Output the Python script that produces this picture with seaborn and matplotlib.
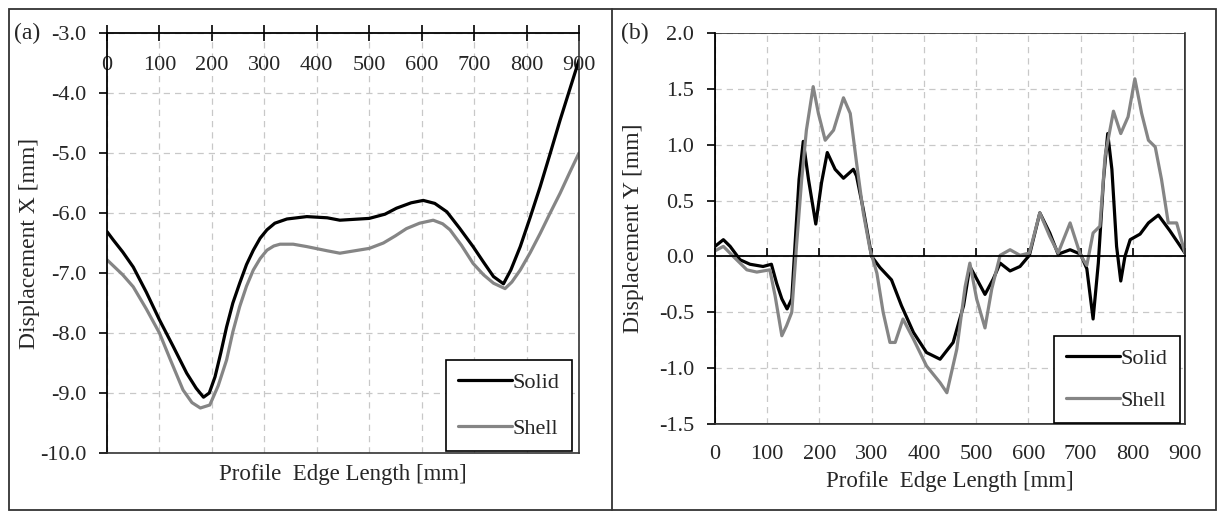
import matplotlib
matplotlib.use("Agg")
import matplotlib.pyplot as plt
import seaborn as sns
import numpy as np
from matplotlib.patches import Rectangle
from matplotlib.lines import Line2D

# ---------------- data ----------------
# Panel (a): Displacement X
ax_solid_x = [0, 12, 30, 50, 75, 100, 126, 152, 170, 184, 195, 206, 217, 228, 240, 253, 266, 279, 292, 305, 320, 343, 381, 420, 444,
              500, 530, 552, 580, 603, 625, 648, 672, 698, 718, 737, 756, 770, 788, 807, 826, 845, 864, 882, 900]
ax_solid_y = [-6.31, -6.45, -6.65, -6.9, -7.32, -7.78, -8.22, -8.67, -8.92, -9.07, -9.0, -8.73, -8.33, -7.9, -7.5, -7.17, -6.86, -6.62, -6.42, -6.28, -6.17, -6.1, -6.06, -6.08, -6.12,
              -6.09, -6.02, -5.92, -5.83, -5.79, -5.84, -5.98, -6.25, -6.56, -6.82, -7.06, -7.18, -6.95, -6.56, -6.07, -5.56, -5.01, -4.45, -3.95, -3.45]
ax_shell_x = [0, 12, 30, 50, 75, 100, 122, 145, 162, 178, 196, 212, 228, 240, 253, 266, 279, 292, 305, 318, 330, 355, 381, 420, 444,
              500, 527, 550, 571, 596, 622, 640, 654, 676, 698, 718, 737, 759, 772, 788, 807, 826, 845, 864, 882, 900]
ax_shell_y = [-6.78, -6.88, -7.03, -7.23, -7.6, -8.0, -8.47, -8.95, -9.16, -9.25, -9.2, -8.88, -8.45, -7.98, -7.56, -7.22, -6.95, -6.76, -6.62, -6.55, -6.52, -6.52, -6.56, -6.63, -6.67,
              -6.59, -6.5, -6.38, -6.26, -6.17, -6.12, -6.18, -6.28, -6.54, -6.84, -7.03, -7.17, -7.26, -7.15, -6.95, -6.66, -6.34, -6.0, -5.67, -5.33, -5.0]

# Panel (b): Displacement Y
by_solid_x = [0, 16, 29, 48, 67, 92, 108, 118, 128, 138, 147, 155, 161, 169, 179, 193, 204, 215, 230, 246,
              265, 271, 284, 300, 316, 338, 357, 380, 405, 431, 456, 476, 488, 501, 517, 533, 546, 565, 584, 602,
              622, 641, 657, 680, 700, 712, 724, 734, 744, 752, 760, 769, 777, 785, 795, 814, 830, 849, 871, 900]
by_solid_y = [0.09, 0.15, 0.09, -0.03, -0.07, -0.09, -0.07, -0.24, -0.38, -0.47, -0.38, 0.24, 0.69, 1.03, 0.69, 0.29, 0.66, 0.93, 0.78, 0.70,
              0.78, 0.72, 0.42, 0.0, -0.10, -0.21, -0.44, -0.68, -0.86, -0.92, -0.77, -0.44, -0.09, -0.20, -0.34, -0.20, -0.06, -0.13, -0.09, 0.01,
              0.39, 0.21, 0.02, 0.06, 0.02, -0.11, -0.56, -0.06, 0.69, 1.10, 0.78, 0.09, -0.22, 0.0, 0.15, 0.2, 0.30, 0.37, 0.23, 0.03]
by_shell_x = [0, 16, 35, 61, 80, 105, 115, 128, 137, 147, 156, 166, 175, 188, 198, 211, 227, 246, 259, 271,
              284, 297, 310, 322, 335, 345, 360, 380, 405, 431, 444, 463, 479, 488, 501, 517, 530, 546, 565, 584,
              602, 622, 641, 657, 680, 700, 712, 724, 737, 747, 763, 777, 791, 804, 817, 830, 843, 855, 868, 884, 900]
by_shell_y = [0.05, 0.09, 0.0, -0.12, -0.14, -0.12, -0.35, -0.71, -0.62, -0.50, 0.09, 0.69, 1.13, 1.52, 1.28, 1.04, 1.13, 1.42, 1.28, 0.84,
              0.39, 0.06, -0.15, -0.5, -0.77, -0.77, -0.56, -0.74, -0.98, -1.13, -1.22, -0.83, -0.27, -0.06, -0.38, -0.64, -0.29, 0.01, 0.06, 0.01,
              0.03, 0.39, 0.18, 0.03, 0.30, 0.01, -0.08, 0.21, 0.27, 0.90, 1.30, 1.10, 1.25, 1.59, 1.28, 1.04, 0.98, 0.69, 0.30, 0.30, 0.03]

x_ticks = [0, 100, 200, 300, 400, 500, 600, 700, 800, 900]
ya_ticks = [-10.0, -9.0, -8.0, -7.0, -6.0, -5.0, -4.0, -3.0]
yb_ticks = [-1.5, -1.0, -0.5, 0.0, 0.5, 1.0, 1.5, 2.0]
series_names = ["Solid", "Shell"]
series_colors = ["#000000", "#858585"]

# ---------------- style ----------------
sns.set_theme(style="white")
plt.rcParams['font.family'] = ['Liberation Serif', 'DejaVu Serif']

W, H = 1218, 511
fig = plt.figure(figsize=(W / 100, H / 100), dpi=100)

def fr(x0, y0, x1, y1):
    return [x0 / W, 1 - y1 / H, (x1 - x0) / W, (y1 - y0) / H]

axA = fig.add_axes(fr(107, 33, 579, 453))
axB = fig.add_axes(fr(715, 33, 1185, 424))

TICK_FS = 16
XLAB_FS = 16.5
YLAB_FS = 17
LW = 2.3
grid_kw = dict(color="#c8c8c8", linestyle=(0, (5, 4)), linewidth=0.9)

def common(ax):
    ax.set_xlim(0, 900)
    ax.set_xticks(x_ticks)
    ax.grid(True, **grid_kw)
    ax.set_axisbelow(True)
    for s in ax.spines.values():
        s.set_visible(True)
        s.set_color('#333333')
        s.set_linewidth(1.2)
    ax.spines['left'].set_color('black')
    ax.spines['left'].set_linewidth(1.3)
    ax.tick_params(axis='y', left=True, direction='out', length=6, width=1.2,
                   color='black', labelsize=TICK_FS, pad=9)

# ---- panel (a)
sns.lineplot(x=ax_solid_x, y=ax_solid_y, ax=axA, color=series_colors[0], lw=LW, sort=False, label=series_names[0])
sns.lineplot(x=ax_shell_x, y=ax_shell_y, ax=axA, color=series_colors[1], lw=LW, sort=False, label=series_names[1])
common(axA)
axA.set_ylim(-10, -3)
axA.set_yticks(ya_ticks)
axA.set_yticklabels([f"{v:.1f}" for v in ya_ticks])
axA.set_xticklabels([str(v) for v in x_ticks])
axA.spines['top'].set_color('black')
axA.spines['top'].set_linewidth(1.3)
axA.tick_params(axis='x', bottom=False, top=True, labelbottom=False, labeltop=True,
                direction='inout', length=12, width=1.2, color='black',
                labelsize=TICK_FS, pad=-36)
axA.set_xlabel("Profile  Edge Length [mm]", fontsize=XLAB_FS, labelpad=8)
axA.xaxis.set_label_position('bottom')
axA.set_ylabel("Displacement X [mm]", fontsize=YLAB_FS, labelpad=0)

# ---- panel (b)
sns.lineplot(x=by_solid_x, y=by_solid_y, ax=axB, color=series_colors[0], lw=LW, sort=False, label=series_names[0])
sns.lineplot(x=by_shell_x, y=by_shell_y, ax=axB, color=series_colors[1], lw=LW, sort=False, label=series_names[1])
common(axB)
axB.set_ylim(-1.5, 2.0)
axB.set_yticks(yb_ticks)
axB.set_yticklabels([f"{v:.1f}" for v in yb_ticks])
axB.set_xticklabels([str(v) for v in x_ticks])
# plot-area frame (top edge) since the top spine becomes the zero axis
axB.add_patch(Rectangle((0, 0), 1, 1, transform=axB.transAxes, fill=False,
                        edgecolor='#333333', lw=1.2, zorder=2.4))
axB.spines['top'].set_position(('data', 0))
axB.spines['top'].set_color('black')
axB.spines['top'].set_linewidth(1.3)
axB.tick_params(axis='x', bottom=True, top=True, labelbottom=True, labeltop=False,
                labelsize=TICK_FS, color='black', width=1.2)
for t in axB.xaxis.get_major_ticks():
    t.tick1line.set_visible(False)
    t.tick2line.set_marker('|')
    t.tick2line.set_markersize(12)
    t.tick2line.set_markeredgewidth(1.2)
axB.tick_params(axis='x', pad=9)
axB.set_xlabel("Profile  Edge Length [mm]", fontsize=XLAB_FS, labelpad=5)
axB.set_ylabel("Displacement Y [mm]", fontsize=YLAB_FS, labelpad=11)

# legends
for ax, anchor, sp in [(axA, (0.985, 0.005), 1.15), (axB, (0.989, 0.003), 0.95)]:
    handles = [Line2D([], [], color=c, lw=LW) for c in series_colors]
    leg = ax.legend(handles, series_names, loc='lower right', bbox_to_anchor=anchor,
                    borderaxespad=0, frameon=True, fancybox=False, framealpha=1,
                    edgecolor='black', handlelength=2.4, handletextpad=0.05,
                    fontsize=16, borderpad=0.55, labelspacing=sp)
    leg.get_frame().set_linewidth(1.2)

# panel tags
fig.text(14 / W, 1 - 33 / H, "(a)", fontsize=17, va='center', ha='left')
fig.text(621 / W, 1 - 33 / H, "(b)", fontsize=17, va='center', ha='left')

# outer frame and divider
fig.add_artist(Rectangle((9 / W, 1 / H), (1216 - 9) / W, (510 - 9) / H, transform=fig.transFigure,
                         fill=False, edgecolor='#333333', lw=1.3))
fig.add_artist(Line2D([612 / W, 612 / W], [1 / H, 1 - 9 / H], transform=fig.transFigure,
                      color='#333333', lw=1.3))

fig.savefig("out.png", dpi=100)
